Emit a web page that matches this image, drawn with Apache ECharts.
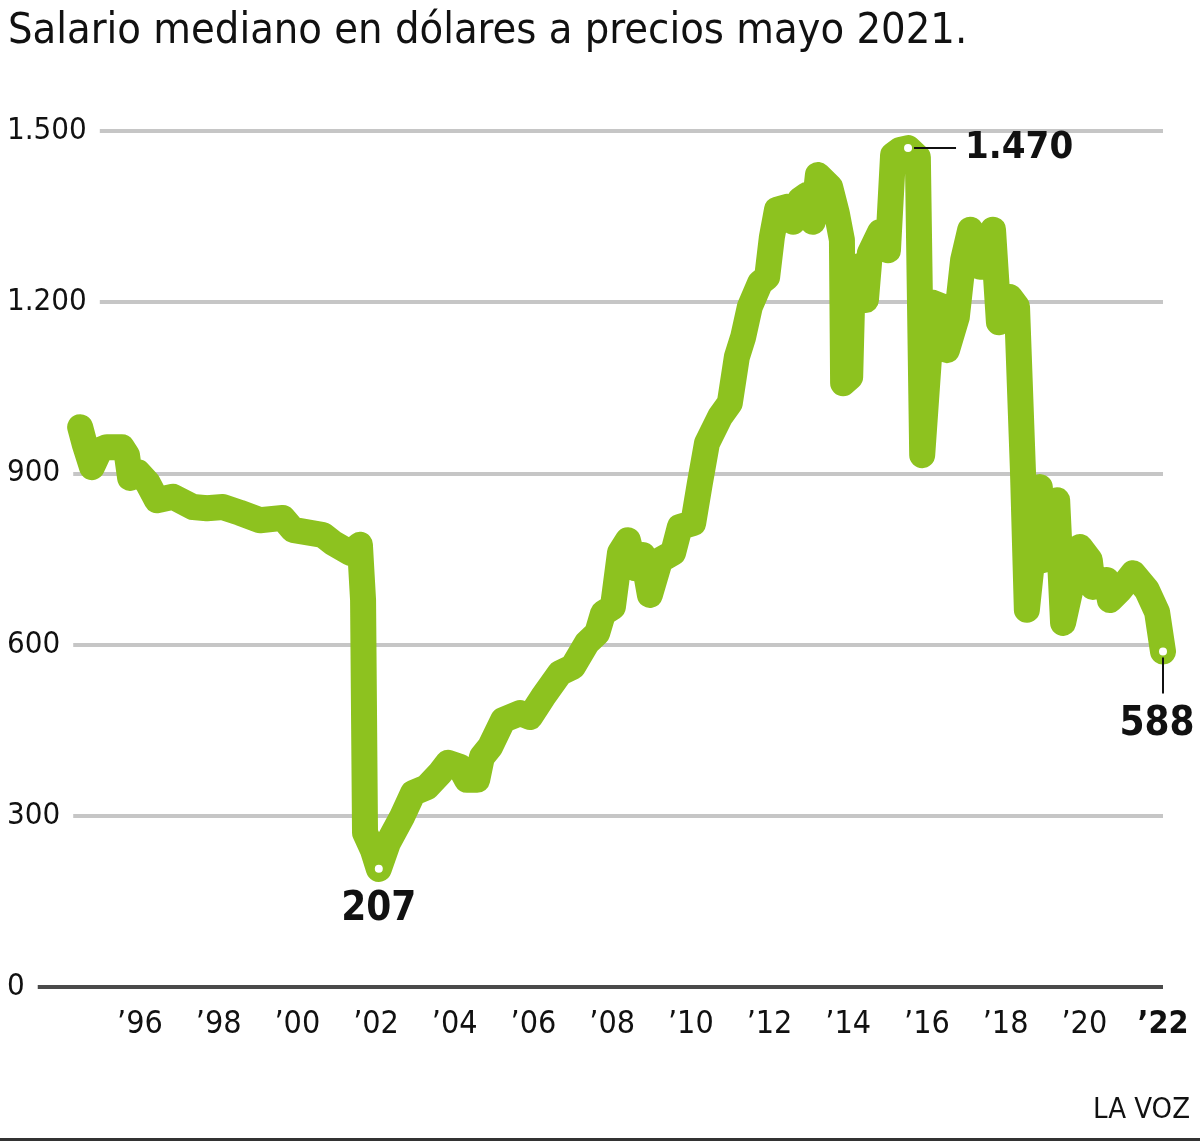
<!DOCTYPE html>
<html>
<head>
<meta charset="utf-8">
<title>Salario mediano</title>
<script src="https://cdn.jsdelivr.net/npm/echarts@6/dist/echarts.min.js"></script>
<style>
  html, body { margin: 0; padding: 0; background: #fff; }
  #chart { width: 1200px; height: 1148px; }
</style>
</head>
<body>
<div id="chart"></div>
<script>
// fecha (año decimal) y salario mediano en dólares
const years = [
  1994.48, 1994.60, 1994.78, 1994.98, 1995.16, 1995.54, 1995.67, 1995.75, 1995.95, 1996.20,
  1996.43, 1996.84, 1997.35, 1997.70, 1998.11, 1998.54, 1999.05, 1999.63, 1999.89, 2000.65,
  2000.91, 2001.34, 2001.59, 2001.67, 2001.72, 2001.92, 2002.07, 2002.30, 2002.66, 2002.94,
  2003.29, 2003.63, 2003.83, 2004.13, 2004.31, 2004.57, 2004.69, 2004.90, 2005.23, 2005.66,
  2005.91, 2006.24, 2006.67, 2007.00, 2007.36, 2007.62, 2007.77, 2008.02, 2008.20, 2008.40,
  2008.58, 2008.78, 2008.96, 2009.22, 2009.55, 2009.72, 2010.06, 2010.23, 2010.41, 2010.74,
  2010.99, 2011.17, 2011.33, 2011.50, 2011.76, 2011.94, 2012.06, 2012.19, 2012.44, 2012.60,
  2012.77, 2012.95, 2013.10, 2013.23, 2013.54, 2013.71, 2013.84, 2013.87, 2014.05, 2014.12,
  2014.35, 2014.45, 2014.55, 2014.81, 2015.01, 2015.14, 2015.32, 2015.52, 2015.77, 2015.88,
  2016.15, 2016.41, 2016.51, 2016.76, 2016.92, 2017.10, 2017.35, 2017.68, 2017.83, 2018.11,
  2018.29, 2018.44, 2018.54, 2018.87, 2018.95, 2019.31, 2019.46, 2019.89, 2020.14, 2020.22,
  2020.57, 2020.65, 2020.91, 2021.24, 2021.59, 2021.85, 2022.00
]
const salary = [
  981, 950, 911, 941, 946, 946, 932, 892, 902, 883,
  853, 859, 841, 839, 841, 831, 818, 822, 801, 792,
  778, 761, 775, 678, 270, 240, 207, 252, 298, 340,
  350, 375, 393, 386, 363, 363, 403, 421, 468, 480,
  473, 508, 550, 561, 603, 620, 655, 666, 761, 783,
  734, 757, 687, 748, 761, 806, 813, 883, 953, 999,
  1023, 1104, 1139, 1192, 1234, 1244, 1314, 1362, 1367, 1341,
  1379, 1388, 1341, 1423, 1402, 1356, 1309, 1058, 1069, 1256,
  1265, 1204, 1286, 1323, 1291, 1458, 1467, 1470, 1454, 932,
  1199, 1192, 1116, 1174, 1274, 1327, 1262, 1327, 1165, 1209,
  1192, 906, 661, 876, 748, 853, 638, 771, 748, 701,
  713, 678, 696, 725, 696, 657, 588
]
const yTicks = [0, 300, 600, 900, 1200, 1500]
const xTicks = [1996, 1998, 2000, 2002, 2004, 2006, 2008, 2010, 2012, 2014, 2016, 2018, 2020, 2022]

const GREEN = '#8dc21f'
const FONT = "'DejaVu Sans Condensed', 'Liberation Sans Narrow', 'DejaVu Sans', sans-serif"

const fmtMiles = v => String(v).replace(/\B(?=(\d{3})+(?!\d))/g, '.')

const iMin = salary.indexOf(Math.min(...salary))
const iMax = salary.indexOf(Math.max(...salary))
const iLast = salary.length - 1

const chart = echarts.init(document.getElementById('chart'))

chart.setOption({
  animation: false,
  textStyle: { fontFamily: FONT },
  title: {
    text: 'Salario mediano en dólares a precios mayo 2021.',
    left: 3,
    top: 5,
    textStyle: { fontFamily: FONT, fontSize: 43, fontWeight: 'normal', color: '#111' }
  },
  grid: { left: 5, right: 37, top: 131, bottom: 161 },
  xAxis: {
    type: 'value',
    min: 1992.57,
    max: 2022,
    axisLine: { show: false },
    axisTick: { show: false },
    splitLine: { show: false },
    axisLabel: {
      customValues: xTicks,
      margin: 22,
      fontSize: 32,
      color: '#111',
      formatter: v => v === 2022 ? '{b|’22}' : '’' + String(v).slice(2),
      rich: { b: { fontSize: 32, fontWeight: 'bold', color: '#111', fontFamily: FONT } }
    }
  },
  yAxis: {
    type: 'value',
    min: yTicks[0],
    max: yTicks[yTicks.length - 1],
    interval: 300,
    axisLine: { show: false },
    axisTick: { show: false },
    // línea del cero más oscura
    splitLine: {
      lineStyle: { color: ['#4a4a4a', '#c6c6c6', '#c6c6c6', '#c6c6c6', '#c6c6c6', '#c6c6c6'], width: 4 }
    },
    axisLabel: {
      inside: true,
      margin: 0,
      fontSize: 31,
      color: '#111',
      backgroundColor: '#fff',
      padding: [0, 13, 4, 2],
      formatter: v => fmtMiles(v)
    }
  },
  series: [
    {
      type: 'line',
      data: years.map((y, i) => [y, salary[i]]),
      showSymbol: false,
      clip: false,
      lineStyle: { color: GREEN, width: 26, cap: 'round', join: 'round' },
      z: 3
    },
    {
      type: 'scatter',
      z: 5,
      symbolSize: 11,
      itemStyle: { color: '#fff', borderColor: GREEN, borderWidth: 3, opacity: 1 },
      label: {
        show: true,
        fontSize: 40,
        fontWeight: 'bold',
        color: '#111',
        formatter: p => fmtMiles(p.value[1])
      },
      data: [
        { value: [years[iMin], salary[iMin]], label: { position: 'bottom', distance: 14 } },
        { value: [years[iMax], salary[iMax]], label: { position: 'right', distance: 50, fontSize: 38 } },
        { value: [years[iLast], salary[iLast]], label: { position: 'bottom', distance: 46, offset: [-6, 0] } }
      ]
    }
  ]
})

// líneas guía de las etiquetas y pie
const pMax = chart.convertToPixel({ gridIndex: 0 }, [years[iMax], salary[iMax]])
const pLast = chart.convertToPixel({ gridIndex: 0 }, [years[iLast], salary[iLast]])

chart.setOption({
  graphic: [
    {
      type: 'line',
      shape: { x1: pMax[0] + 6, y1: pMax[1], x2: pMax[0] + 48, y2: pMax[1] },
      style: { stroke: '#111', lineWidth: 2 },
      z: 10
    },
    {
      type: 'line',
      shape: { x1: pLast[0], y1: pLast[1] + 6, x2: pLast[0], y2: pLast[1] + 42 },
      style: { stroke: '#111', lineWidth: 2 },
      z: 10
    },
    {
      type: 'text',
      right: 10,
      top: 1096,
      style: { text: 'LA VOZ', fontSize: 29, fontFamily: FONT, fill: '#111' }
    },
    {
      type: 'rect',
      shape: { x: 0, y: 1138, width: 1200, height: 3 },
      style: { fill: '#333' }
    }
  ]
})
</script>
</body>
</html>
